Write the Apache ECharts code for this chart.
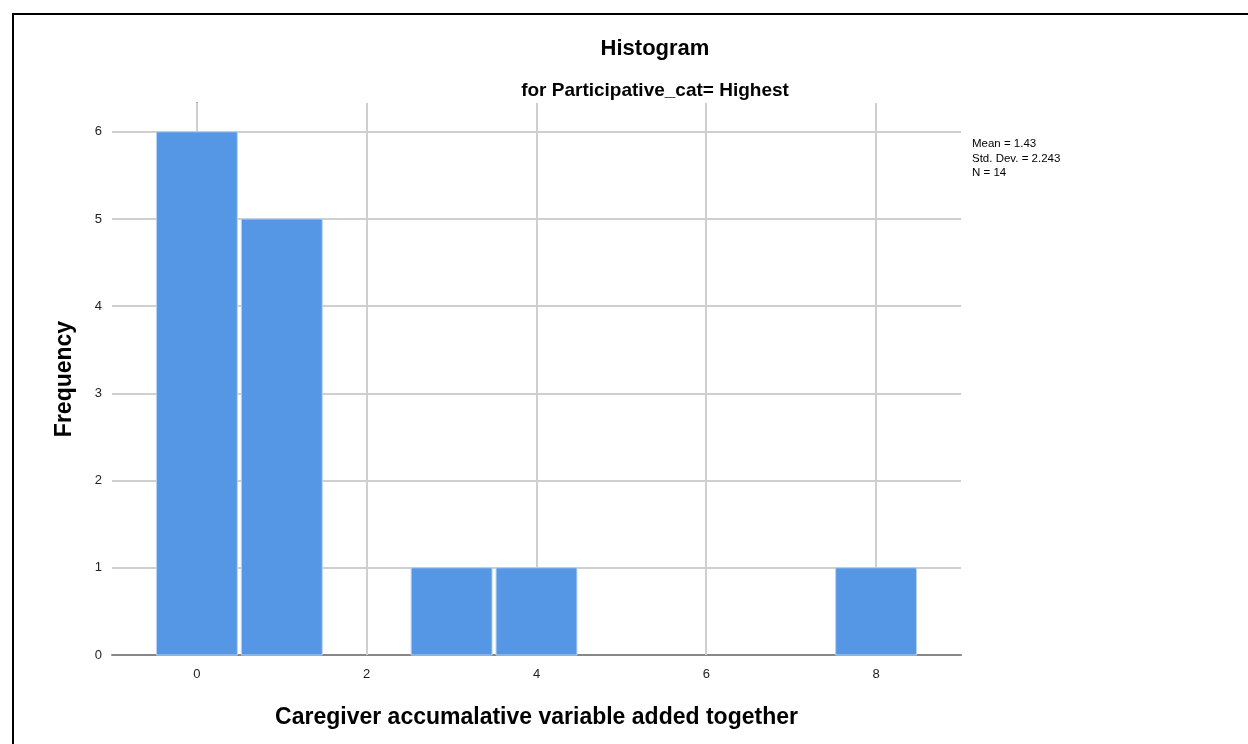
<!DOCTYPE html>
<html>
<head>
<meta charset="utf-8">
<script src="https://cdn.jsdelivr.net/npm/echarts@6/dist/echarts.min.js"></script>
<style>
  html, body { margin: 0; padding: 0; background: #fff; }
  #frame { position: absolute; left: 12px; top: 13px; width: 1236px; height: 731px;
           border-top: 2px solid #000; border-left: 2px solid #000; box-sizing: border-box; }
  #chart { position: absolute; left: 0; top: 0; width: 1248px; height: 744px; }
</style>
</head>
<body>
<div id="frame"></div>
<div id="chart"></div>
<script>
// Histogram bins (bin centre, count), bin width 1
const binCenters = [0, 1, 2, 3, 4, 5, 6, 7, 8];
const binCounts  = [6, 5, 0, 1, 1, 0, 0, 0, 1];
const xTickValues = [0, 2, 4, 6, 8];
const yTickValues = [0, 1, 2, 3, 4, 5, 6];
const statLines = ['Mean = 1.43', 'Std. Dev. = 2.243', 'N = 14'];

const titleText = 'Histogram';
const subtitleText = 'for Participative_cat= Highest';
const xName = 'Caregiver accumalative variable added together';
const yName = 'Frequency';

const barData = binCenters.map((c, i) => [c, binCounts[i]]).filter(d => d[1] > 0);

const chart = echarts.init(document.getElementById('chart'), null, { renderer: 'canvas' });

const FONT = '"Liberation Sans", Arial, sans-serif';

chart.setOption({
  animation: false,
  backgroundColor: 'transparent',
  title: [
    { text: titleText, left: 650, top: 33, textAlign: 'center',
      textStyle: { fontFamily: FONT, fontSize: 22, fontWeight: 'bold', color: '#000' } },
    { text: subtitleText, left: 650, top: 76, textAlign: 'center',
      textStyle: { fontFamily: FONT, fontSize: 19, fontWeight: 'bold', color: '#000' } }
  ],
  graphic: [{
    type: 'text', left: 972, top: 137,
    style: { text: statLines.join('\n'), font: '11.5px ' + FONT, fill: '#000', lineHeight: 14.5 }
  }],
  grid: { left: 112, right: 287, top: 103, bottom: 89, containLabel: false },
  xAxis: {
    type: 'value', min: -1, max: 9, interval: 1,
    name: xName, nameLocation: 'middle', nameGap: 51,
    nameTextStyle: { fontFamily: FONT, fontSize: 23, fontWeight: 'bold', color: '#000' },
    axisLine: { show: true, onZero: false, lineStyle: { color: '#888', width: 2 } },
    axisTick: { show: false },
    splitLine: { show: false },
    axisLabel: { customValues: xTickValues, margin: 13, fontFamily: FONT, fontSize: 13, color: '#222' }
  },
  yAxis: {
    type: 'value', min: 0, max: 6.33, interval: 1,
    name: yName, nameLocation: 'middle', nameGap: 36, nameRotate: 90,
    nameTextStyle: { fontFamily: FONT, fontSize: 23, fontWeight: 'bold', color: '#000' },
    axisLine: { show: true, lineStyle: { color: '#888', width: 2 } },
    axisTick: { show: false },
    splitLine: { show: true, showMinLine: false, showMaxLine: false, lineStyle: { color: '#cfcfcf', width: 2 } },
    axisLabel: { customValues: yTickValues, margin: 10, fontFamily: FONT, fontSize: 13, color: '#222' }
  },
  series: [
    {
      // vertical grid lines at the labelled x values
      type: 'custom', z: 1, silent: true,
      data: xTickValues.map(v => [v]),
      renderItem: function (params, api) {
        const cs = params.coordSys;
        const x = Math.round(api.coord([api.value(0), 0])[0]);
        return {
          type: 'line',
          shape: { x1: x, y1: cs.y, x2: x, y2: cs.y + cs.height },
          style: { stroke: '#cfcfcf', lineWidth: 2 }
        };
      }
    },
    {
      type: 'custom', z: 3,
      data: barData,
      renderItem: function (params, api) {
        const c = api.value(0), n = api.value(1);
        const p0 = api.coord([c - 0.5, n]);
        const p1 = api.coord([c + 0.5, 0]);
        const inset = 2;
        return {
          type: 'rect',
          shape: { x: p0[0] + inset, y: p0[1], width: p1[0] - p0[0] - inset * 2, height: p1[1] - p0[1] },
          style: { fill: '#5596e5', stroke: '#b9d3f3', lineWidth: 1 }
        };
      }
    }
  ]
});
</script>
</body>
</html>
